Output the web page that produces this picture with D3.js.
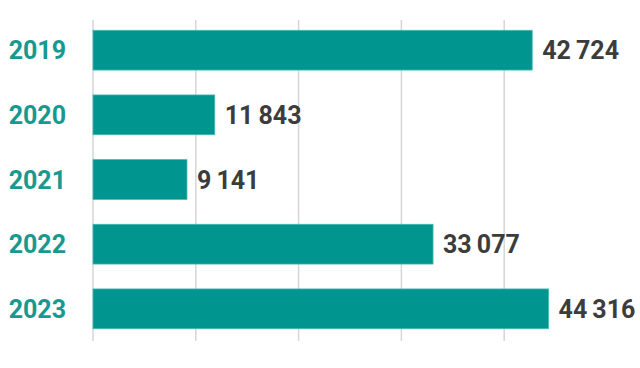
<!DOCTYPE html>
<html>
<head>
<meta charset="utf-8">
<script src="https://cdn.jsdelivr.net/npm/d3@7"></script>
<style>
  body { margin: 0; background: #fff; }
  text { font-family: Roboto, "Open Sans", sans-serif; font-weight: 700; }
</style>
</head>
<body>
<div id="chart"></div>
<script>
// data
var years = ["2019", "2020", "2021", "2022", "2023"]
var values = [42724, 11843, 9141, 33077, 44316]
var ticks = [0, 10000, 20000, 30000, 40000]

var width = 640, height = 368

var svg = d3.select("#chart")
  .append("svg")
  .attr("width", width)
  .attr("height", height)

var x = d3.scaleLinear()
  .domain([0, 50000])
  .range([93, 607])

var y = d3.scaleBand()
  .domain(years)
  .range([18, 341])
  .paddingInner(0.385)
  .paddingOuter(0.19)

// thin space as thousands separator
var fmt = d3.formatLocale({ decimal: ",", thousands: "\u2009", grouping: [3], currency: ["", ""] }).format(",d")

// vertical grid lines
svg.append("g")
  .selectAll("line")
  .data(ticks)
  .enter()
  .append("line")
  .attr("x1", function (d) { return x(d) })
  .attr("x2", function (d) { return x(d) })
  .attr("y1", 20)
  .attr("y2", 341)
  .attr("stroke", "#d6d6d6")
  .attr("stroke-width", 1.5)

var rows = years.map(function (d, i) { return { year: d, value: values[i] } })

// bars
svg.append("g")
  .selectAll("rect")
  .data(rows)
  .enter()
  .append("rect")
  .attr("x", x(0))
  .attr("y", function (d) { return y(d.year) })
  .attr("width", function (d) { return x(d.value) - x(0) })
  .attr("height", y.bandwidth())
  .attr("fill", "#00958f")
  .attr("stroke", "#45b8b1")
  .attr("stroke-width", 0.8)

// year labels
svg.append("g")
  .selectAll("text")
  .data(rows)
  .enter()
  .append("text")
  .attr("x", 66)
  .attr("y", function (d) { return y(d.year) + y.bandwidth() / 2 })
  .attr("dy", "0.36em")
  .attr("text-anchor", "end")
  .style("font-size", "25px")
  .style("fill", "#17998f")
  .text(function (d) { return d.year })

// value labels
svg.append("g")
  .selectAll("text")
  .data(rows)
  .enter()
  .append("text")
  .attr("x", function (d) { return x(d.value) + 10 })
  .attr("y", function (d) { return y(d.year) + y.bandwidth() / 2 })
  .attr("dy", "0.36em")
  .style("font-size", "25px")
  .style("fill", "#3c3c3c")
  .text(function (d) { return fmt(d.value) })
</script>
</body>
</html>
